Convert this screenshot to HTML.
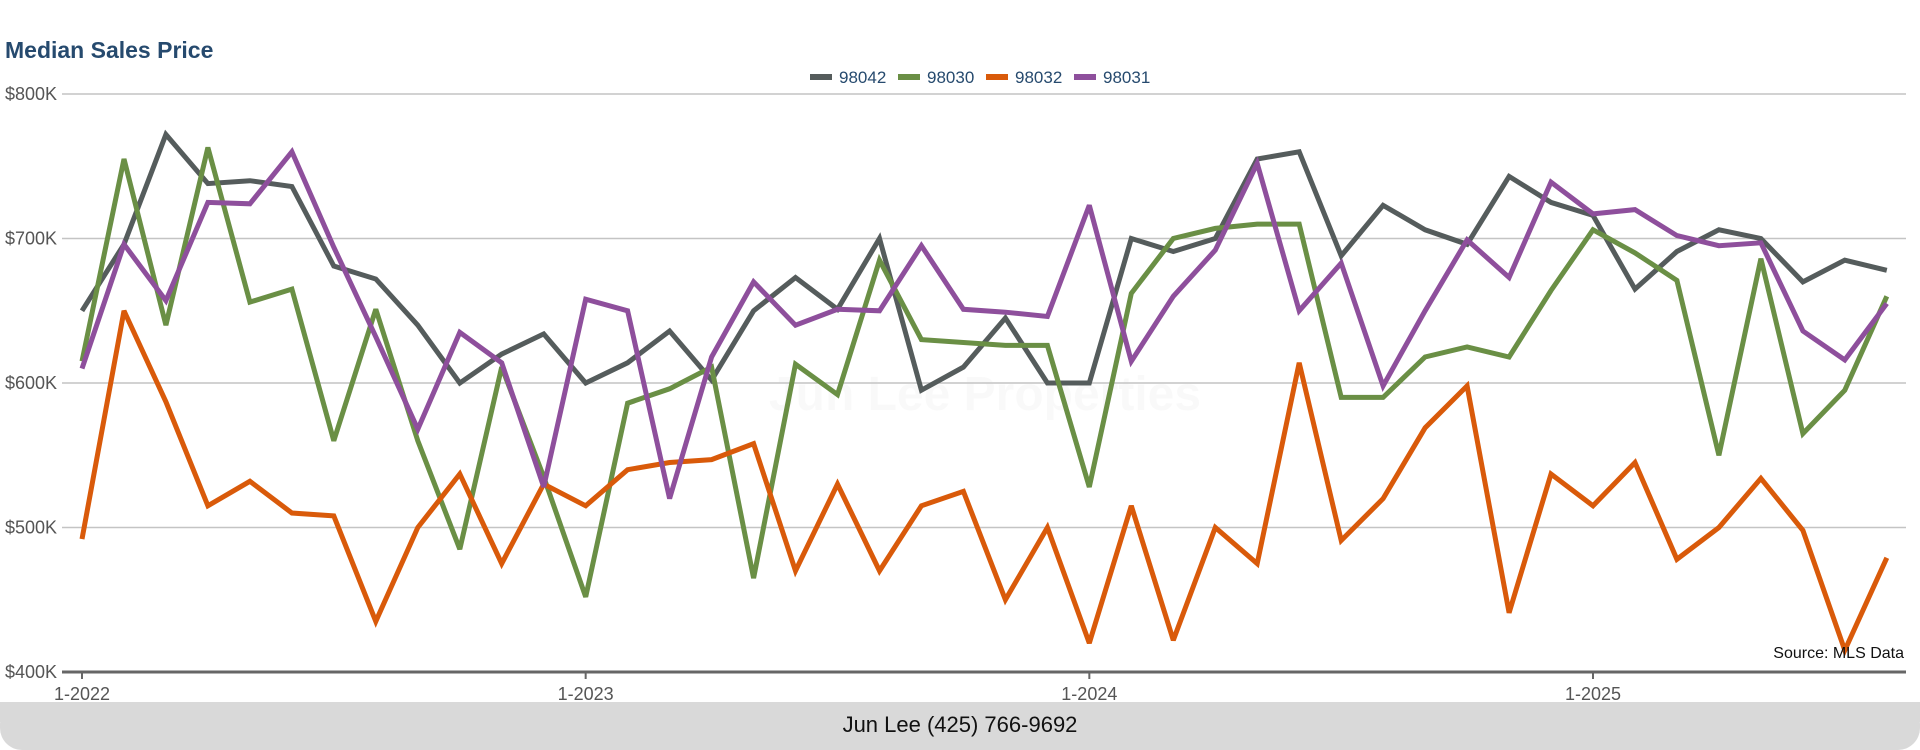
<!DOCTYPE html>
<html><head><meta charset="utf-8"><style>
html,body{margin:0;padding:0;background:#fff;width:1920px;height:750px;overflow:hidden;font-family:"Liberation Sans",sans-serif}
</style></head><body>
<svg id="chart" width="1920" height="750" xmlns="http://www.w3.org/2000/svg" style="position:absolute;left:0;top:0">
<rect x="0" y="702" width="1920" height="48" rx="22" fill="#d9d9d9"/>
<rect x="0" y="702" width="1920" height="20" fill="#d9d9d9"/>
<text x="960" y="732" text-anchor="middle" font-size="22" fill="#111">Jun Lee (425) 766-9692</text>
<text x="5" y="58" font-size="23" font-weight="bold" fill="#264a6e">Median Sales Price</text>
<text x="985" y="410" text-anchor="middle" font-size="48" font-weight="bold" fill="#000" fill-opacity="0.025">Jun Lee Properties</text>
<g id="grid"></g><g id="series"></g><g id="legend"></g>
<text x="1904" y="658" text-anchor="end" font-size="16" fill="#111">Source: MLS Data</text>
</svg>
<script>
const months = 44;
const yTicks = [400, 500, 600, 700, 800];
const xTickIdx = [0, 12, 24, 36];
const xTickLabels = ["1-2022", "1-2023", "1-2024", "1-2025"];
const seriesNames = ["98042", "98030", "98032", "98031"];
const seriesColors = ["#555c5c", "#6a8f45", "#d95a0a", "#8e4f9c"];
const s98042 = [650,696,772,738,740,736,681,672,640,600,620,634,600,614,636,602,650,673,651,700,595,611,645,600,600,700,691,700,755,760,688,723,706,696,743,725,716,665,691,706,700,670,685,678];
const s98030 = [615,755,640,763,656,665,560,651,560,485,611,535,452,586,596,611,465,613,592,685,630,628,626,626,528,662,700,707,710,710,590,590,618,625,618,664,706,690,671,550,686,565,595,660];
const s98032 = [492,650,587,515,532,510,508,435,500,537,475,530,515,540,545,547,558,470,530,470,515,525,450,500,420,515,422,500,475,614,491,520,569,598,441,537,515,545,478,500,534,498,415,479];
const s98031 = [610,696,657,725,724,760,694,632,568,635,614,528,658,650,520,618,670,640,651,650,695,651,649,646,723,615,660,692,752,650,683,598,650,699,673,739,717,720,702,695,697,636,616,655];
const allSeries = [s98042, s98030, s98032, s98031];
const NS = "http://www.w3.org/2000/svg";
const x = i => 82 + i * (1593 - 82) / 36;
const y = v => 94 + (800 - v) * (672 - 94) / 400;
function mk(tag, attrs, parent){const e=document.createElementNS(NS,tag);for(const k in attrs)e.setAttribute(k,attrs[k]);parent.appendChild(e);return e;}
const grid = document.getElementById('grid');
yTicks.forEach(v=>{
  if(v>400){const l=mk('line',{x1:62,x2:1906,y1:y(v),y2:y(v),stroke:'#c4c4c4','stroke-width':1.5},grid);
  
  }
  const t=mk('text',{x:5,y:y(v)+6,'font-size':18,fill:'#555'},grid);t.textContent='$'+v+'K';
  
  
});
const ax=mk('line',{x1:62,x2:1906,y1:y(400),y2:y(400),stroke:'#666','stroke-width':3},grid);


xTickIdx.forEach((idx,k)=>{
  const tk=mk('line',{x1:x(idx),x2:x(idx),y1:y(400),y2:y(400)+7,stroke:'#666','stroke-width':2},grid);
  
  
  const t=mk('text',{x:x(idx),y:y(400)+28,'font-size':18,fill:'#555','text-anchor':'middle'},grid);t.textContent=xTickLabels[k];
  
  
});
const sg=document.getElementById('series');
allSeries.forEach((s,k)=>{
  const d=s.map((v,i)=>(i?'L':'M')+x(i).toFixed(1)+','+y(v).toFixed(1)).join(' ');
  const p=mk('path',{d:d,fill:'none',stroke:seriesColors[k],'stroke-width':5,'stroke-linejoin':'miter','stroke-miterlimit':3},sg);
  
  
});
const lg=document.getElementById('legend');
let lx=810;
seriesNames.forEach((n,k)=>{
  const r=mk('rect',{x:lx,y:74,width:22,height:6,fill:seriesColors[k]},lg);
  
  
  const t=mk('text',{x:lx+29,y:83,'font-size':17,fill:'#264a6e'},lg);t.textContent=n;
  
  
  lx+=88;
});
</script>
</body></html>
